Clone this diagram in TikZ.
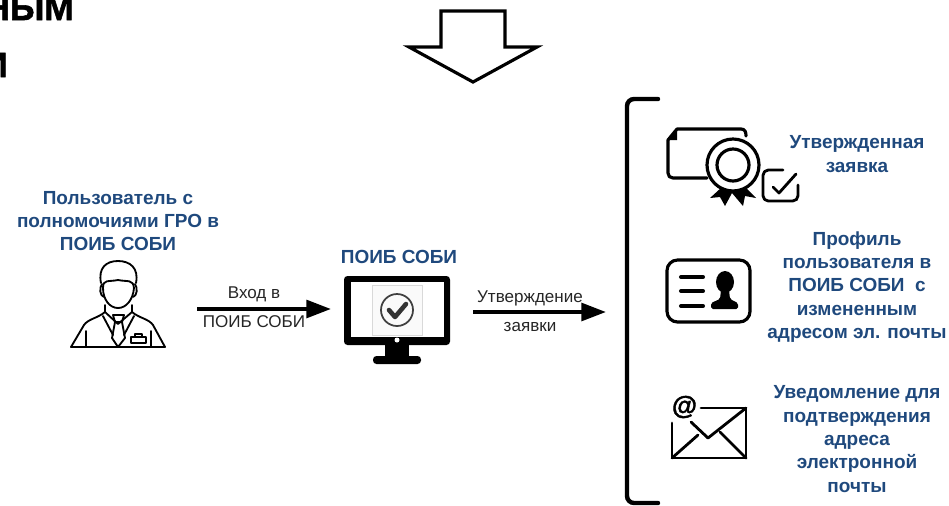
\documentclass[tikz,border=0pt]{standalone}
\usepackage{fontspec}
\setmainfont{Liberation Sans}
\newfontfamily\heavyfont[FakeBold=1.6]{Liberation Sans Bold}
\usepackage{xcolor}
\usetikzlibrary{positioning,arrows.meta}
\definecolor{lblblue}{HTML}{1F497D}
\tikzset{
  headlbl/.style={font=\fontsize{10.8}{13.25}\selectfont\bfseries,text=lblblue,align=center,inner sep=0pt},
  arrowlbl/.style={font=\fontsize{9.7}{11}\selectfont,text=black!85,inner sep=0pt},
  flow/.style={line width=2.3pt,-{Triangle[length=14pt,width=10pt]}},
  icon/.style={line width=1.8pt,line cap=round,line join=round},
  thin icon/.style={line width=1.05pt,line cap=round,line join=round}
}
\begin{document}
\begin{tikzpicture}[x=.02cm,y=-.02cm]
\useasboundingbox (0,0) rectangle (949,505);
\clip (0,0) rectangle (949,505);
\node[anchor=base east,inner sep=0pt,font=\fontsize{20}{20}\selectfont\heavyfont] (cutA) at (74,20) {НЫМ};
\node[anchor=base east,inner sep=0pt,font=\fontsize{20}{20}\selectfont\heavyfont] (cutB) at (8,77) {И};
\draw[line width=1.8pt,line join=miter] (441,11) -- (505,11) -- (505,47) -- (537,47) -- (473,82) -- (409,47) -- (441,47) -- cycle;

\node[headlbl] (userlbl) at (118,221) {Пользователь с\\полномочиями ГРО в\\ПОИБ СОБИ};
\draw[thin icon] (101,283) .. controls (98,268) and (106,261) .. (118,261) .. controls (130,261) and (139,268) .. (136,283);
\draw[thin icon] (103,288) .. controls (103,279) and (108,282) .. (118,280) .. controls (128,282) and (133,279) .. (134,288);
\draw[thin icon] (103,288) .. controls (103,300) and (110,308) .. (118,308) .. controls (126,308) and (133,300) .. (134,288);
\draw[thin icon] (102,284) .. controls (99,288) and (100,296) .. (104,297);
\draw[thin icon] (135,284) .. controls (138,288) and (137,296) .. (133,297);
\draw[thin icon] (71,347) -- (165,347);
\draw[thin icon] (71,347) -- (84,325) .. controls (88,319) and (98,318) .. (105,312) -- (118,324) -- (132,312) .. controls (139,318) and (149,319) .. (153,325) -- (165,347);
\draw[thin icon] (105,305) -- (105,312);
\draw[thin icon] (132,305) -- (132,312);
\draw[thin icon] (103,316) -- (113,335);
\draw[thin icon] (134,316) -- (124,335);
\draw[thin icon] (113,315) -- (124,315) -- (122,322) -- (115,322) -- cycle;
\draw[thin icon] (115,322) -- (112,338) -- (118,347) -- (125,338) -- (122,322);
\draw[thin icon] (86,331) -- (86,347);
\draw[thin icon] (151,331) -- (151,347);
\draw[thin icon] (131,337) rectangle (146,343);
\draw[thin icon] (135,337) -- (135,334) -- (142,334) -- (142,337);

\coordinate (loginA) at (197,309);
\coordinate (loginB) at (331,309);
\draw[flow] (loginA) -- (loginB);
\node[arrowlbl] (loginlbl) at (254,294) {Вход в};
\node[arrowlbl] (loginlblb) at (254,322) {ПОИБ СОБИ};

\node[headlbl] (soblbl) at (399,257) {ПОИБ СОБИ};
\fill[rounded corners=2pt,black] (344,276) rectangle (450,345);
\fill[white] (351,282) rectangle (444,337);
\draw[black!15,fill=black!2,line width=.4pt] (372,285) rectangle (422,335);
\fill[white] (397,340) circle (2.5);
\fill[black] (385,345) rectangle (409,357);
\fill[rounded corners=2pt,black] (373,356) rectangle (421,364);
\draw[black!75,line width=1pt] (397,310) circle (16);
\draw[black!80,line width=2.6pt,line cap=round,line join=round] (389,310) -- (395,317) -- (406,304);

\coordinate (approveA) at (473,312);
\coordinate (approveB) at (606,312);
\draw[flow] (approveA) -- (approveB);
\node[arrowlbl] (approvelbl) at (530,298) {Утверждение};
\node[arrowlbl] (approvelblb) at (530,327) {заявки};

\draw[line width=2.5pt,rounded corners=4pt,line cap=round] (658,99) -- (627,99) -- (627,503) -- (658,503);

\draw[icon] (707,178) -- (673,178) .. controls (670,178) and (668,176) .. (668,173) -- (668,140) -- (677,129) -- (741,129) .. controls (745,129) and (746,132) .. (746,136);
\fill (668,140) -- (677,129) -- (677,140) -- cycle;
\draw[icon] (733,165) circle (26);
\draw[icon] (733,165) circle (16);
\fill (722,187) -- (710,198) -- (720,197) -- (725,206) -- (732,193) -- (743,206) -- (745,196) -- (756,198) -- (745,187) -- (733,192) -- cycle;
\draw[icon,line width=1.6pt,rounded corners=3pt] (783,170) -- (763,170) -- (763,201) -- (798,201) -- (798,185);
\draw[icon,line width=1.6pt] (773,187) -- (779,193) -- (796,174);
\node[headlbl] (appllbl) at (857,154) {Утвержденная\\заявка};

\draw[icon,rounded corners=6pt] (667,260) rectangle (750,322);
\draw[icon,line width=2.3pt] (681,277) -- (703,277);
\draw[icon,line width=2.3pt] (681,291) -- (703,291);
\draw[icon,line width=2.3pt] (681,306) -- (703,306);
\fill (725,282) ellipse (9 and 11);
\fill[rounded corners=1pt] (711,309) -- (711,303) -- (720,299) -- (721,290) -- (729,290) -- (730,299) -- (738,303) -- (738,309) -- cycle;
\node[headlbl] (profilelbl) at (857,287) {Профиль\\пользователя в\\ПОИБ СОБИ~ с\\измененным\\адресом эл. почты};

\draw[icon,line width=1.6pt] (672,423) -- (672,458) -- (746,458) -- (746,408) -- (701,408);
\draw[icon,line width=1.6pt] (691,422) -- (708,438) -- (746,408);
\draw[icon,line width=1.6pt] (672,458) -- (698,435);
\draw[icon,line width=1.6pt] (746,458) -- (720,432);
\node[inner sep=0pt,font=\fontsize{14.6}{15}\selectfont\heavyfont] (atsign) at (684.5,407) {@};
\node[headlbl] (noticelbl) at (857,439) {Уведомление для\\подтверждения\\адреса\\электронной\\почты};
\end{tikzpicture}
\end{document}
